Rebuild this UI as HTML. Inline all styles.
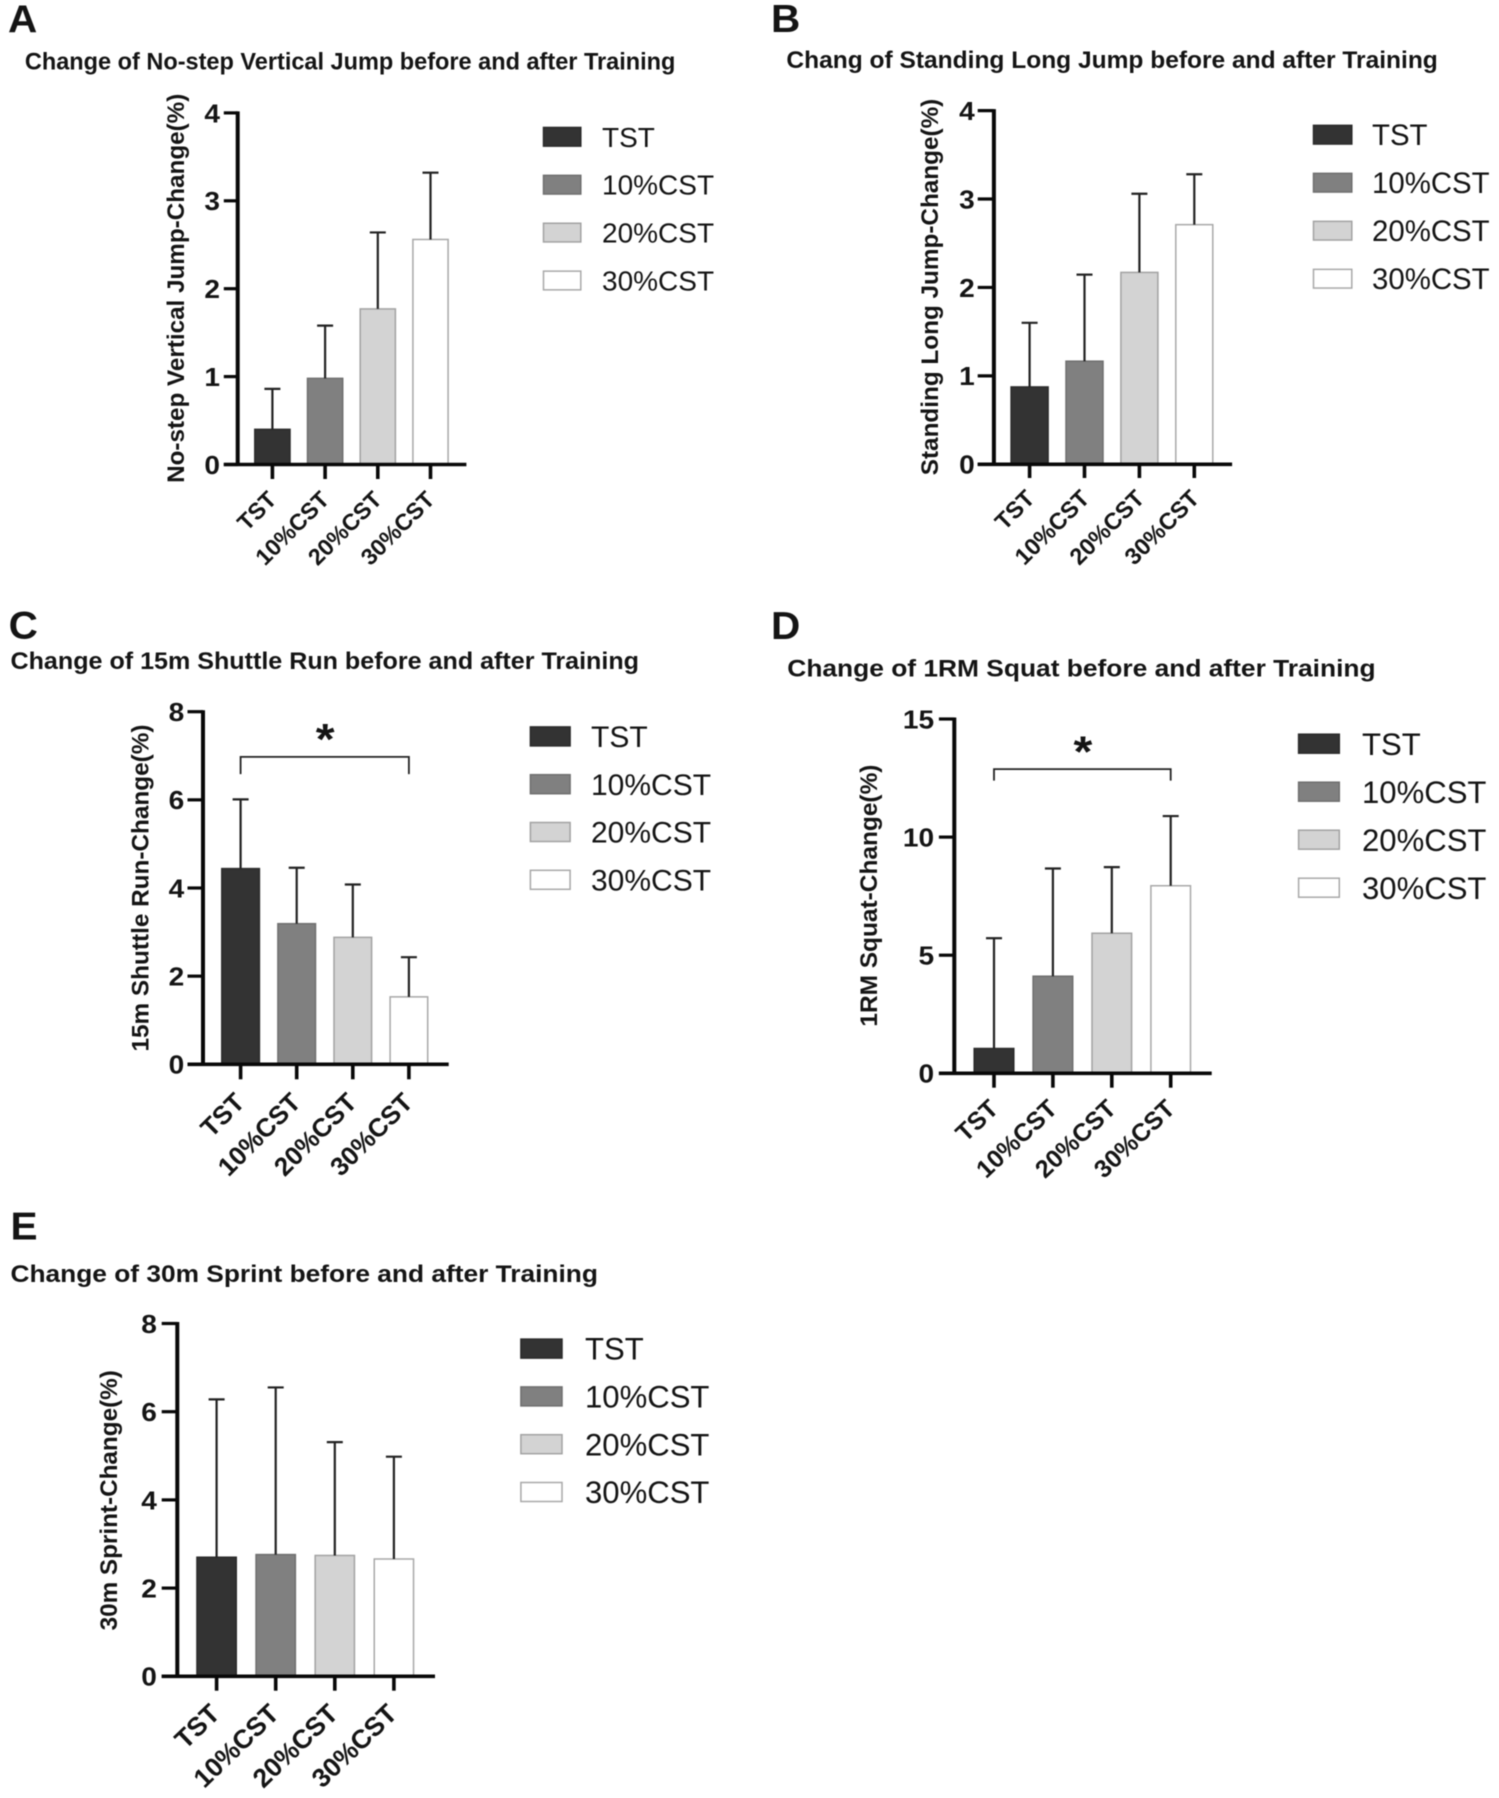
<!DOCTYPE html>
<html lang="en">
<head>
<meta charset="utf-8">
<title>Change in performance before and after training</title>
<style>
html,body{margin:0;padding:0;background:#fff;}
svg{display:block;font-family:"Liberation Sans",Arial,sans-serif;filter:blur(0.4px);}
text{fill:#141414;}
</style>
</head>
<body>
<svg id="figure" xmlns="http://www.w3.org/2000/svg" width="1499" height="1798" viewBox="0 0 1499 1798"></svg>
<script>
const categories = ['TST', '10%CST', '20%CST', '30%CST'];

const jumpTicks = [0, 1, 2, 3, 4];
const shuttleTicks = [0, 2, 4, 6, 8];
const squatTicks = [0, 5, 10, 15];
const sprintTicks = [0, 2, 4, 6, 8];

const verticalJumpMeans = [0.40, 0.98, 1.77, 2.56];
const verticalJumpUpper = [0.86, 1.58, 2.64, 3.32];
const longJumpMeans = [0.875, 1.166, 2.17, 2.71];
const longJumpUpper = [1.60, 2.145, 3.06, 3.28];
const shuttleMeans = [4.44, 3.19, 2.88, 1.53];
const shuttleUpper = [6.01, 4.46, 4.08, 2.43];
const squatMeans = [1.05, 4.11, 5.93, 7.94];
const squatUpper = [5.72, 8.67, 8.73, 10.89];
const sprintMeans = [2.70, 2.76, 2.74, 2.66];
const sprintUpper = [6.28, 6.55, 5.31, 4.98];

const barFills = ['#333333', '#808080', '#d3d3d3', '#ffffff'];
const barStrokes = ['#2b2b2b', '#6f6f6f', '#a2a2a2', '#a8a8a8'];

const panels = [
  {id:'a', letter:'A', letterX:8, letterY:32.7,
   title:'Change of No-step Vertical Jump before and after Training', titleX:24.9, titleY:69.6, titleW:650.5,
   yTitle:'No-step Vertical Jump-Change(%)', yTitleX:184.1, yTitleY:288.3, yTitleL:389.2, yTitleSize:24,
   axisX:237.7, y0:464.5, yTop:112.9, yMax:4, ticks:jumpTicks, tickLeft:223.8, xEnd:466.4, tickBottom:479,
   first:272.4, step:52.7, barW:35.2, means:verticalJumpMeans, upper:verticalJumpUpper,
   tickLabelRight:220, tickSize:26, xLabelSize:23.2, xLabelDX:5.5, xLabelY:501, xLabelRot:-45,
   legendX:543.5, legendW:37.3, legendH:18.7, legendTextX:602, legendSize:28, legendY:136.8, legendStep:47.9},
  {id:'b', letter:'B', letterX:771, letterY:31.8,
   title:'Chang of Standing Long Jump before and after Training', titleX:786.4, titleY:68.1, titleW:651.4,
   yTitle:'Standing Long Jump-Change(%)', yTitleX:938, yTitleY:287, yTitleL:376.5, yTitleSize:24,
   axisX:993.9, y0:464.3, yTop:110.6, yMax:4, ticks:jumpTicks, tickLeft:977.7, xEnd:1232.1, tickBottom:478,
   first:1029.6, step:54.9, barW:37, means:longJumpMeans, upper:longJumpUpper,
   tickLabelRight:974.8, tickSize:26, xLabelSize:23.5, xLabelDX:6.4, xLabelY:499.8, xLabelRot:-45,
   legendX:1313.5, legendW:38.3, legendH:18.7, legendTextX:1372, legendSize:29.4, legendY:134.7, legendStep:48},
  {id:'c', letter:'C', letterX:8.6, letterY:638.3,
   title:'Change of 15m Shuttle Run before and after Training', titleX:10.5, titleY:668.9, titleW:628.5,
   yTitle:'15m Shuttle Run-Change(%)', yTitleX:148.3, yTitleY:888, yTitleL:327, yTitleSize:24,
   axisX:203, y0:1064.3, yTop:711.7, yMax:8, ticks:shuttleTicks, tickLeft:187.5, xEnd:448.7, tickBottom:1079.3,
   first:240.6, step:56.1, barW:37.6, means:shuttleMeans, upper:shuttleUpper,
   tickLabelRight:184.2, tickSize:26, xLabelSize:26, xLabelDX:5.5, xLabelY:1103.9, xLabelRot:-45,
   legendX:530.4, legendW:39.7, legendH:19, legendTextX:591, legendSize:30, legendY:736.4, legendStep:47.8,
   bracketY:756.9, bracketEnd:774.1, starX:325.2, starY:729},
  {id:'d', letter:'D', letterX:771, letterY:639,
   title:'Change of 1RM Squat before and after Training', titleX:787.3, titleY:676.5, titleW:588.3,
   yTitle:'1RM Squat-Change(%)', yTitleX:876.8, yTitleY:895.6, yTitleL:262.1, yTitleSize:24,
   axisX:954.3, y0:1073.3, yTop:719, yMax:15, ticks:squatTicks, tickLeft:938.9, xEnd:1211.7, tickBottom:1087.7,
   first:994, step:58.9, barW:39.6, means:squatMeans, upper:squatUpper,
   tickLabelRight:934.1, tickSize:26, xLabelSize:25, xLabelDX:5.8, xLabelY:1110.5, xLabelRot:-43.5,
   legendX:1298.6, legendW:40.7, legendH:19, legendTextX:1362, legendSize:31.1, legendY:743.7, legendStep:48,
   bracketY:769.1, bracketEnd:780.6, starX:1082.9, starY:741.4},
  {id:'e', letter:'E', letterX:10.5, letterY:1239.3,
   title:'Change of 30m Sprint before and after Training', titleX:10.5, titleY:1282.2, titleW:587.4,
   yTitle:'30m Sprint-Change(%)', yTitleX:117.2, yTitleY:1500.3, yTitleL:260.2, yTitleSize:24,
   axisX:177.3, y0:1676.3, yTop:1323.5, yMax:8, ticks:sprintTicks, tickLeft:161.7, xEnd:435, tickBottom:1690.7,
   first:216.6, step:59.1, barW:39.3, means:sprintMeans, upper:sprintUpper,
   tickLabelRight:156.9, tickSize:26, xLabelSize:26.5, xLabelDX:4.8, xLabelY:1715.5, xLabelRot:-44,
   legendX:520.9, legendW:41.1, legendH:19, legendTextX:585, legendSize:31.1, legendY:1348.6, legendStep:47.8}
];

const NS = 'http://www.w3.org/2000/svg';
const figure = document.getElementById('figure');

function make(tag, attrs, parent) {
  const node = document.createElementNS(NS, tag);
  for (const key in attrs) node.setAttribute(key, attrs[key]);
  parent.appendChild(node);
  return node;
}

function drawLine(parent, x1, y1, x2, y2, width, color) {
  return make('line', {x1: x1, y1: y1, x2: x2, y2: y2, stroke: color, 'stroke-width': width}, parent);
}

function drawText(parent, str, o) {
  const attrs = {
    'font-size': o.size,
    'font-weight': o.weight || 'bold',
    'text-anchor': o.anchor || 'start',
    transform: 'translate(' + o.x + ',' + o.y + ') scale(' + (o.sx || 1) + ',1) rotate(' + (o.rot || 0) + ')'
  };
  if (o.length) {
    attrs.textLength = o.length;
    attrs.lengthAdjust = o.adjust || 'spacingAndGlyphs';
  }
  const node = make('text', attrs, parent);
  node.textContent = str;
  return node;
}

function drawPanel(p) {
  const xScale = function (i) { return p.first + i * p.step; };
  const yScale = function (v) { return p.y0 - (v / p.yMax) * (p.y0 - p.yTop); };

  const group = make('g', {}, figure);
  
  

  const letter = drawText(group, p.letter, {x: p.letterX, y: p.letterY, size: 39, sx: 1.04});
  
  

  const title = drawText(group, p.title, {x: p.titleX, y: p.titleY, size: 24, length: p.titleW});
  
  

  const yTitle = drawText(group, p.yTitle, {x: p.yTitleX, y: p.yTitleY, size: p.yTitleSize, anchor: 'middle', rot: -90, length: p.yTitleL});
  
  

  categories.forEach(function (cat, i) {
    const cx = xScale(i);
    const top = yScale(p.means[i]);
    const bar = make('rect', {
      x: cx - p.barW / 2, y: top, width: p.barW, height: p.y0 - top,
      fill: barFills[i], stroke: barStrokes[i], 'stroke-width': 1.5
    }, group);
    
    

    const errY = yScale(p.upper[i]);
    const stem = drawLine(group, cx, top, cx, errY, 2.2, '#222222');
    
    
    const cap = drawLine(group, cx - 8, errY, cx + 8, errY, 2.2, '#222222');
    
    

    const tick = drawLine(group, cx, p.y0, cx, p.tickBottom, 3.6, '#080808');
    
    

    const label = drawText(group, cat, {x: cx + p.xLabelDX, y: p.xLabelY, size: p.xLabelSize, anchor: 'end', rot: p.xLabelRot});
    
    

    const ly = p.legendY + i * p.legendStep;
    const swatch = make('rect', {
      x: p.legendX, y: ly - p.legendH / 2, width: p.legendW, height: p.legendH,
      fill: barFills[i], stroke: barStrokes[i], 'stroke-width': 1.5
    }, group);
    
    

    const legendText = drawText(group, cat, {x: p.legendTextX, y: ly + p.legendSize * 0.357, size: p.legendSize, weight: 'normal'});
    
    
  });

  const yAxis = drawLine(group, p.axisX, p.yTop - 1.5, p.axisX, p.y0 + 1.5, 4, '#080808');
  
  
  const xAxis = drawLine(group, p.tickLeft, p.y0, p.xEnd, p.y0, 3.6, '#080808');
  
  

  p.ticks.forEach(function (v) {
    const ty = yScale(v);
    const tick = drawLine(group, p.tickLeft, ty, p.axisX, ty, 3.2, '#080808');
    
    
    const label = drawText(group, String(v), {x: p.tickLabelRight, y: ty + p.tickSize * 0.36, size: p.tickSize, anchor: 'end', sx: 1.08});
    
    
  });

  if (p.bracketY) {
    const left = xScale(0);
    const right = xScale(categories.length - 1);
    const bracket = make('path', {
      d: 'M' + left + ' ' + p.bracketEnd + 'V' + p.bracketY + 'H' + right + 'V' + p.bracketEnd,
      fill: 'none', stroke: '#222222', 'stroke-width': 1.8
    }, group);
    
    
    const star = drawText(group, '*', {x: p.starX, y: p.starY + 25, size: 44, anchor: 'middle', sx: 1.1});
    
    
  }
}

panels.forEach(drawPanel);
</script>
</body>
</html>
